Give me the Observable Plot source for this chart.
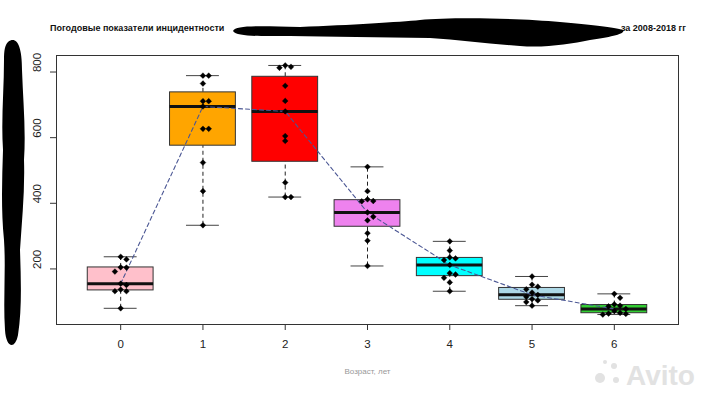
<!DOCTYPE html>
<html><head><meta charset="utf-8">
<script src="https://cdn.jsdelivr.net/npm/d3@7"></script>
<script src="https://cdn.jsdelivr.net/npm/@observablehq/plot@0.6"></script>
<style>
body{margin:0;background:#fff;overflow:hidden;font-family:"Liberation Sans",Arial,sans-serif}
#wrap{position:relative;width:709px;height:393px;background:#fff}
#chart{position:absolute;left:0;top:0}
.t{position:absolute;top:23px;font-size:9px;font-weight:bold;color:#111;white-space:nowrap;font-family:"Liberation Sans",Arial,sans-serif}
#deco{position:absolute;left:0;top:0;pointer-events:none}
</style></head>
<body><div id="wrap"><div id="chart"></div>
<div class="t" style="left:50px">Погодовые показатели инцидентности</div>
<div class="t" style="left:621px">за 2008-2018 гг</div>
<svg id="deco" width="709" height="393">
<path d="M233,31 C236,25 260,26 300,27 C350,25 400,22 420,20 C450,17 520,18 560,22 C590,25 615,27 623,30 C626,34 610,37 590,40 C570,44 545,48 520,46 C490,44 460,40 430,38 C380,37 330,37 290,36 C260,36 237,37 233,31 Z" fill="#000"/>
<path d="M8,42 C16,36 22,44 22,70 C23,100 26,130 24,160 C25,190 22,220 20,250 C21,280 22,310 18,335 C15,350 6,348 5,330 C3,300 6,270 4,240 C1,210 2,180 3,150 C1,120 4,90 4,60 C4,50 5,45 8,42 Z" fill="#000"/>
<g fill="#e2e2e2" font-family="Liberation Sans, Arial, sans-serif" font-weight="bold">
<circle cx="600" cy="378" r="5"/><circle cx="614" cy="366" r="3"/><circle cx="616" cy="380" r="3"/><circle cx="605" cy="362" r="2"/>
<text x="626" y="385" font-size="28">Avito</text></g>
</svg>
</div>
<script>
const groups = [0, 1, 2, 3, 4, 5, 6];
const age0 = [237, 229, 205, 204, 192, 155, 151, 137, 132, 132, 80];
const age1 = [789, 789, 765, 711, 711, 695, 627, 627, 524, 437, 333];
const age2 = [820, 816, 813, 758, 712, 680, 605, 590, 463, 419, 419];
const age3 = [511, 437, 412, 407, 406, 372, 359, 348, 309, 286, 209];
const age4 = [284, 256, 235, 232, 227, 212, 187, 183, 173, 159, 132];
const age5 = [177, 152, 146, 138, 128, 121, 115, 108, 104, 99, 88];
const age6 = [124, 112, 92, 88, 86, 78, 72, 66, 64, 63, 61];
const boxColors = ["pink", "orange", "red", "violet", "cyan", "lightblue", "limegreen"];
const yTicks = [200, 400, 600, 800];
const series = [age0, age1, age2, age3, age4, age5, age6];

function fivenum(v) {
  const s = [...v].sort((a, b) => a - b), n = s.length;
  const n4 = Math.floor((n + 3) / 2) / 2;
  return [1, n4, (n + 1) / 2, n + 1 - n4, n].map(k => 0.5 * (s[Math.floor(k) - 1] + s[Math.ceil(k) - 1]));
}
const stats = series.map((vals, g) => {
  const [mn, q1, med, q3, mx] = fivenum(vals);
  const iqr = q3 - q1;
  const lo = d3.min(vals.filter(v => v >= q1 - 1.5 * iqr));
  const hi = d3.max(vals.filter(v => v <= q3 + 1.5 * iqr));
  return {g, q1, med, q3, lo, hi, color: boxColors[g]};
});
// beeswarm-like side-by-side placement of near-equal values
const step = 0.07, thr = 15;
const pts = [];
series.forEach((vals, g) => {
  const placed = [];
  [...vals].sort((a, b) => b - a).forEach(v => {
    for (const k of [0, 1, -1, 2, -2, 3, -3]) {
      const off = k * step;
      if (!placed.some(p => Math.abs(p.v - v) < thr && Math.abs(p.off - off) < step * 0.5)) {
        placed.push({v, off}); pts.push({x: g + off, v}); break;
      }
    }
  });
});
const all = series.flat();
const ext = d3.extent(all), pad = (ext[1] - ext[0]) * 0.04;

const chart = Plot.plot({
  width: 709, height: 393,
  marginLeft: 56, marginRight: 31, marginTop: 55, marginBottom: 69,
  x: {domain: [-0.78, 6.78], axis: null},
  y: {domain: [ext[0] - pad, ext[1] + pad], axis: null},
  style: {fontFamily: "Liberation Sans, Arial, sans-serif", background: "transparent", color: "#222"},
  marks: [
    Plot.ruleX(stats, {x: "g", y1: "q3", y2: "hi", stroke: "#222", strokeDasharray: "4,3"}),
    Plot.ruleX(stats, {x: "g", y1: "lo", y2: "q1", stroke: "#222", strokeDasharray: "4,3"}),
    Plot.ruleY(stats, {y: "hi", x1: d => d.g - 0.2, x2: d => d.g + 0.2, stroke: "#444"}),
    Plot.ruleY(stats, {y: "lo", x1: d => d.g - 0.2, x2: d => d.g + 0.2, stroke: "#444"}),
    Plot.rect(stats, {x1: d => d.g - 0.4, x2: d => d.g + 0.4, y1: "q1", y2: "q3", fill: "color", stroke: "#333", strokeWidth: 1}),
    Plot.ruleY(stats, {y: "med", x1: d => d.g - 0.4, x2: d => d.g + 0.4, stroke: "#111", strokeWidth: 3}),
    Plot.line(stats, {x: "g", y: "med", stroke: "#4b5794", strokeWidth: 1.1, strokeDasharray: "4,3"}),
    Plot.dot(pts, {x: "x", y: "v", symbol: "diamond2", fill: "#000", stroke: "#000", strokeWidth: 0.4, r: 2.6}),
    Plot.frame({stroke: "#333"}),
    Plot.axisX({ticks: groups, tickSize: 6, tickPadding: 9, fontSize: 11.5, label: null, stroke: "#333", fill: "#222"}),
    Plot.axisY({ticks: yTicks, tickSize: 6, tickFormat: () => "", label: null, stroke: "#333"}),
    Plot.text(yTicks, {y: d => d, text: d => String(d), frameAnchor: "left", dx: -19, rotate: -90, fontSize: 11.5, fill: "#222"}),
    Plot.text(["Возраст, лет"], {frameAnchor: "bottom", dy: 49, fontSize: 8, fill: "#999"})
  ]
});
document.getElementById("chart").appendChild(chart);
</script>
</body></html>
